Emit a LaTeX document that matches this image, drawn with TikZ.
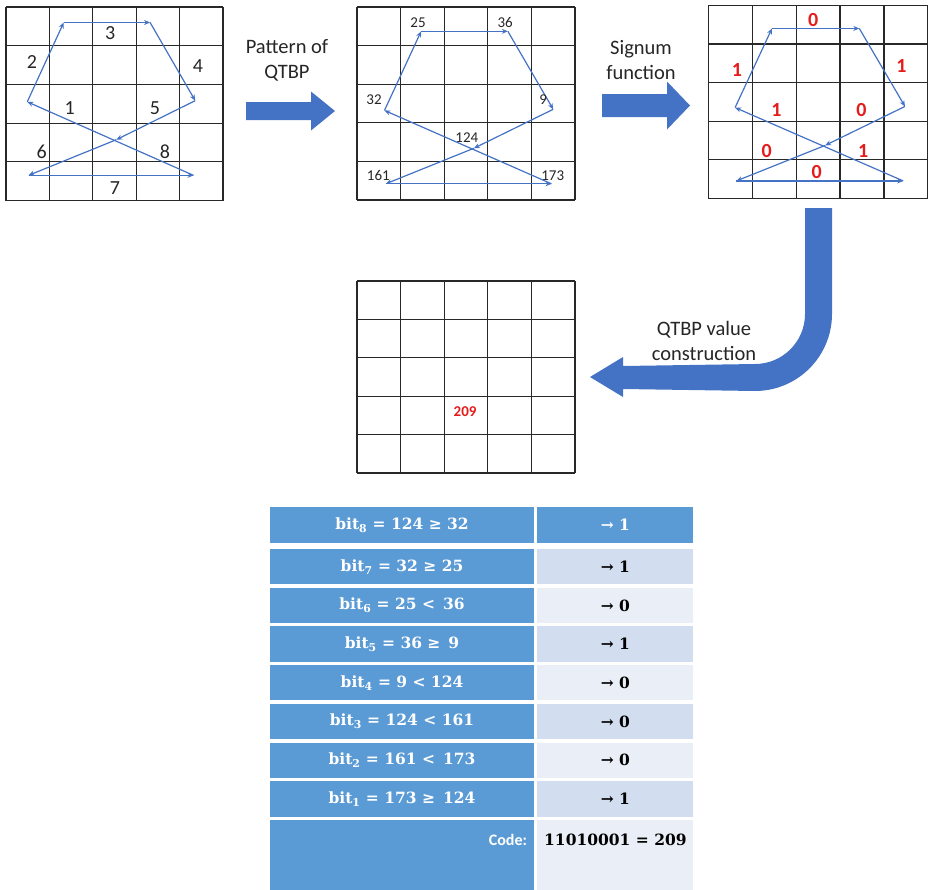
\documentclass[tikz,border=0pt]{standalone}
\usepackage[no-math]{fontspec}
\setmainfont{Carlito}
\newfontfamily\tabserif{DejaVu Serif}
\usepackage{tikz}
\usetikzlibrary{arrows.meta,positioning,calc}
\definecolor{qblue}{RGB}{68,114,196}
\definecolor{tblue}{RGB}{91,155,213}
\definecolor{bandA}{RGB}{210,222,239}
\definecolor{bandB}{RGB}{234,239,247}
\definecolor{qred}{RGB}{228,28,28}
\definecolor{gridgray}{RGB}{40,40,40}
\newcommand{\tabfont}{\fontsize{15.5}{19}\selectfont\tabserif\bfseries}
% 5x5 cells, drawn in cell units of the current scope
\newcommand{\cellgrid}{%
  \foreach \k in {0,...,5} {\draw[gridline] (\k,0) -- (\k,5); \draw[gridline] (0,\k) -- (5,\k);}}
% traversal of the 8 neighbours: #1 prefix, #2/#3 offset
\newcommand{\qtbppath}[3]{%
  \coordinate (#1a) at ({0.61+#2},{2.65+#3});
  \coordinate (#1b) at ({1.45+#2},{0.60+#3});
  \coordinate (#1c) at ({3.44+#2},{0.60+#3});
  \coordinate (#1d) at ({4.48+#2},{2.62+#3});
  \coordinate (#1x) at ({2.66+#2},{3.63+#3});
  \coordinate (#1e) at ({0.64+#2},{4.55+#3});
  \coordinate (#1f) at ({4.44+#2},{4.55+#3});
  \draw[trail] (#1f) -- (#1a);
  \draw[trail] (#1a) -- (#1b);
  \draw[trail] (#1b) -- (#1c);
  \draw[trail] (#1c) -- (#1d);
  \draw[trail] (#1d) -- (#1x);
  \draw[trail] (#1x) -- (#1e);
  \draw[trail] (#1e) -- (#1f);}

\begin{document}
\begin{tikzpicture}[
  x=1pt, y=-1pt,
  gridline/.style={gridgray,line width=1.2pt},
  trail/.style={qblue,line width=1.2pt,-{Stealth[length=6pt,width=5pt]}},
  seqlbl/.style={text=black!85,font=\fontsize{20}{24}\selectfont,inner sep=0pt},
  pixlbl/.style={text=black!85,font=\fontsize{15}{18}\selectfont,inner sep=0pt},
  bitlbl/.style={text=qred,font=\fontsize{20}{24}\selectfont\bfseries,inner sep=0pt},
  codeval/.style={text=qred,font=\fontsize{15}{18}\selectfont\bfseries,inner sep=0pt},
  steplbl/.style={text=black!85,align=center,font=\fontsize{20.5}{25}\selectfont,inner sep=0pt},
  bitcell/.style={fill=tblue,text=white,minimum width=264pt,minimum height=35.3pt,inner sep=0pt,font=\tabfont},
  valcell/.style={minimum width=156pt,minimum height=35.3pt,inner sep=0pt,font=\tabfont}
]
\useasboundingbox (0,0) rectangle (929,889);

% neighbourhood order
\begin{scope}[shift={(6,7)},x=43.4pt,y=-38.7pt]
\cellgrid
\qtbppath{g1}{-0.12}{-0.2}
\node[seqlbl] (s3) at (2.40,0.67) {3};
\node[seqlbl] (s2) at (0.60,1.42) {2};
\node[seqlbl] (s4) at (4.42,1.52) {4};
\node[seqlbl] (s1) at (1.47,2.61) {1};
\node[seqlbl] (s5) at (3.43,2.61) {5};
\node[seqlbl] (s6) at (0.82,3.75) {6};
\node[seqlbl] (s8) at (3.66,3.74) {8};
\node[seqlbl] (s7) at (2.51,4.68) {7};
\end{scope}

% pixel values
\begin{scope}[shift={(357,7)},x=43.6pt,y=-38.6pt]
\cellgrid
\qtbppath{g2}{0.02}{0.03}
\node[pixlbl] (v25) at (1.40,0.41) {25};
\node[pixlbl] (v36) at (3.40,0.41) {36};
\node[pixlbl] (v32) at (0.39,2.40) {32};
\node[pixlbl] (v9) at (4.27,2.40) {9};
\node[pixlbl] (v124) at (2.52,3.39) {124};
\node[pixlbl] (v161) at (0.49,4.37) {161};
\node[pixlbl] (v173) at (4.49,4.37) {173};
\end{scope}

% signum bits
\begin{scope}[shift={(708.3,5.3)},x=43.9pt,y=-38.6pt]
\cellgrid
\qtbppath{g3}{0}{0}
\node[bitlbl] (r1) at (2.39,0.37) {0};
\node[bitlbl] (r2) at (0.65,1.67) {1};
\node[bitlbl] (r3) at (4.40,1.58) {1};
\node[bitlbl] (r4) at (1.55,2.72) {1};
\node[bitlbl] (r5) at (3.49,2.72) {0};
\node[bitlbl] (r6) at (1.33,3.77) {0};
\node[bitlbl] (r7) at (3.53,3.77) {1};
\node[bitlbl] (r8) at (2.47,4.32) {0};
\end{scope}

% result
\begin{scope}[shift={(357,281)},x=43.6pt,y=-38.4pt]
\cellgrid
\node[codeval] (val209) at (2.48,3.40) {209};
\end{scope}

% block arrows
\fill[qblue] (246,102) -- (311,102) -- (311,91.5) -- (335,111) -- (311,130.5) -- (311,120) -- (246,120) -- cycle;
\fill[qblue] (602,94) -- (667,94) -- (667,81.5) -- (690,105.5) -- (667,129.5) -- (667,117) -- (602,117) -- cycle;
\fill[qblue] (805,208) -- (832,208) -- (832,314) .. controls (832,356.5) and (797.5,391) .. (755,391)
  -- (623,389) -- (623,397) -- (590,377) -- (623,357) -- (623,366) -- (755,364)
  .. controls (782.6,364) and (805,341.6) .. (805,314) -- cycle;
\node[steplbl] (lblpattern) at (287,60) {Pattern of\\QTBP};
\node[steplbl] (lblsignum) at (641,60) {Signum\\function};
\node[steplbl] (lblvalue) at (704,341) {QTBP value\\construction};

% bit table
\node[bitcell] (b8) at (402,525) {bit\textsubscript{8} = 124 ≥ 32};
\node[valcell,fill=tblue,text=white,right=3pt of b8] (c8) {→ 1};
\node[bitcell,below=6pt of b8] (b7) {bit\textsubscript{7} = 32 ≥ 25};
\node[valcell,fill=bandA,right=3pt of b7] (c7) {→ 1};
\node[bitcell,below=3pt of b7] (b6) {bit\textsubscript{6} = 25 <\, 36};
\node[valcell,fill=bandB,right=3pt of b6] (c6) {→ 0};
\node[bitcell,below=3pt of b6] (b5) {bit\textsubscript{5} = 36 ≥\, 9};
\node[valcell,fill=bandA,right=3pt of b5] (c5) {→ 1};
\node[bitcell,below=3pt of b5] (b4) {bit\textsubscript{4} = 9 < 124};
\node[valcell,fill=bandB,right=3pt of b4] (c4) {→ 0};
\node[bitcell,below=3pt of b4] (b3) {bit\textsubscript{3} = 124 < 161};
\node[valcell,fill=bandA,right=3pt of b3] (c3) {→ 0};
\node[bitcell,below=3pt of b3] (b2) {bit\textsubscript{2} = 161 <\, 173};
\node[valcell,fill=bandB,right=3pt of b2] (c2) {→ 0};
\node[bitcell,below=3pt of b2] (b1) {bit\textsubscript{1} = 173 ≥\, 124};
\node[valcell,fill=bandA,right=3pt of b1] (c1) {→ 1};
\node[bitcell,minimum height=72pt,below=3pt of b1] (bcode) {};
\node[valcell,fill=bandB,minimum height=72pt,right=3pt of bcode] (ccode) {};
\node[anchor=east,text=white,inner sep=0pt,font=\fontsize{16}{19}\selectfont\bfseries] (lblcode) at ($(bcode.north east)+(-7,20)$) {Code:};
\node[inner sep=0pt,font=\tabfont] (codeword) at ($(ccode.north)+(0,20)$) {11010001 = 209};
\end{tikzpicture}
\end{document}
